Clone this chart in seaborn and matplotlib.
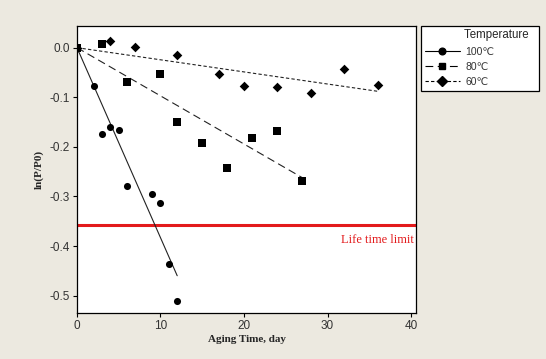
import numpy as np
import pandas as pd
import seaborn as sns
import matplotlib
matplotlib.use("Agg")
import matplotlib.pyplot as plt
from matplotlib.lines import Line2D

# aging data
days_100 = [0, 2, 3, 4, 5, 6, 9, 10, 11, 12]
lnp_100 = [0.0, -0.0775, -0.174, -0.160, -0.166, -0.279, -0.294, -0.313, -0.437, -0.511]
days_80 = [0, 3, 6, 10, 12, 15, 18, 21, 24, 27]
lnp_80 = [0.0, 0.008, -0.069, -0.054, -0.150, -0.192, -0.243, -0.182, -0.168, -0.269]
days_60 = [0, 4, 7, 12, 17, 20, 24, 28, 32, 36]
lnp_60 = [0.0, 0.0137, 0.002, -0.015, -0.054, -0.0775, -0.0796, -0.091, -0.044, -0.076]
temps = ["100\u2103", "80\u2103", "60\u2103"]
life_limit = np.log(0.7)

sns.set_style("white")
plt.rcParams["font.family"] = ["Liberation Sans", "DejaVu Sans"]
plt.rcParams["axes.unicode_minus"] = False

df = pd.concat([
    pd.DataFrame({"day": days_100, "lnp": lnp_100, "Temperature": temps[0]}),
    pd.DataFrame({"day": days_80, "lnp": lnp_80, "Temperature": temps[1]}),
    pd.DataFrame({"day": days_60, "lnp": lnp_60, "Temperature": temps[2]}),
])

bg = "#ECE9E0"
fig = plt.figure(figsize=(5.46, 3.59), dpi=100, facecolor=bg)
ax = fig.add_axes([0.141, 0.128, 0.621, 0.800])
ax.set_facecolor("white")

markers = {temps[0]: "o", temps[1]: "s", temps[2]: "D"}
sizes = {temps[0]: 26, temps[1]: 28, temps[2]: 24}
styles = {temps[0]: "-", temps[1]: (0, (7, 4)), temps[2]: (0, (3, 2))}

for t in temps:
    sub = df[df["Temperature"] == t]
    sns.scatterplot(data=sub, x="day", y="lnp", marker=markers[t], s=sizes[t],
                    color="black", edgecolor="black", linewidth=0, ax=ax,
                    legend=False, zorder=3)
    # least squares line through origin
    x = sub["day"].to_numpy()
    y = sub["lnp"].to_numpy()
    slope = (x * y).sum() / (x * x).sum()
    xs = np.array([0, x.max()])
    sns.lineplot(x=xs, y=slope * xs, color="#222222", lw=0.8,
                 linestyle=styles[t], ax=ax, zorder=2)

ax.axhline(life_limit, color="#E31A1C", lw=2.2, zorder=1)
ax.text(40.3, -0.388, "Life time limit", color="#E31A1C", ha="right", va="center",
        fontsize=9, family="Liberation Serif")

ax.set_xlim(0, 40.6)
ax.set_ylim(-0.535, 0.044)
ax.set_xticks([0, 10, 20, 30, 40])
ax.set_yticks([0.0, -0.1, -0.2, -0.3, -0.4, -0.5])
ax.set_yticklabels(["0.0", "-0.1", "-0.2", "-0.3", "-0.4", "-0.5"])
ax.tick_params(axis="both", direction="out", length=3, width=0.8, labelsize=8.5,
               labelcolor="#333333", color="black", left=True, bottom=True, pad=2)
for s in ax.spines.values():
    s.set_color("black")
    s.set_linewidth(0.9)

ax.set_xlabel("Aging Time, day", fontsize=8, fontweight="bold",
              family="Liberation Serif", labelpad=2)
ax.set_ylabel("ln(P/P0)", fontsize=8, fontweight="bold",
              family="Liberation Serif", labelpad=4)

handles = [Line2D([0], [0], color="black", lw=0.8, linestyle=styles[t],
                  marker=markers[t], markersize=4.8) for t in temps]
leg = fig.legend(handles, temps, title="Temperature  ", loc="upper left",
                 bbox_to_anchor=(0.771, 0.752, 0.216, 0.176), mode="expand",
                 fontsize=7.5, title_fontsize=8.3,
                 frameon=True, fancybox=False, edgecolor="black", framealpha=1,
                 handlelength=3.4, borderpad=0.35, labelspacing=0.5,
                 handletextpad=0.5, borderaxespad=0)
leg.get_frame().set_linewidth(0.9)
leg.get_frame().set_facecolor("white")
leg._legend_box.align = "right"
for txt in leg.get_texts():
    txt.set_color("#333333")

fig.savefig("out.png", dpi=100, facecolor=bg)
